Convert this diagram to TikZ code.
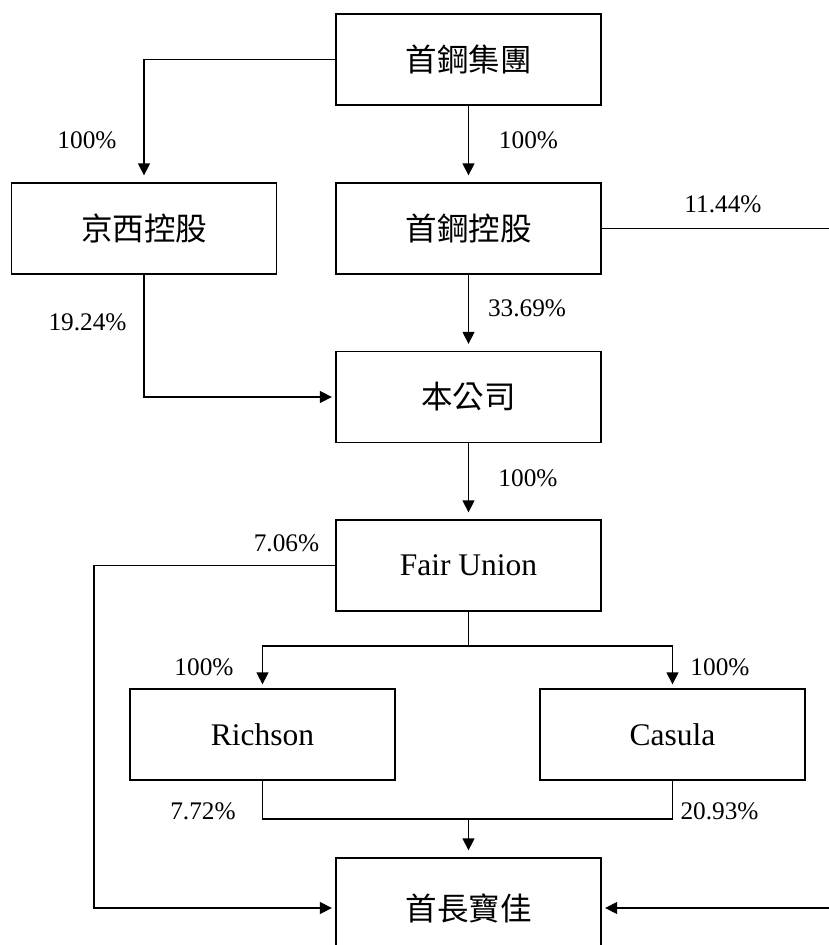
\documentclass[tikz,border=0pt]{standalone}
\usepackage{fontspec}
\setmainfont{Liberation Serif}
\newfontfamily\cjk{Noto Sans CJK TC}
\usetikzlibrary{arrows.meta}
\tikzset{
  box/.style={draw, line width=1.3pt, minimum width=265pt, minimum height=91pt, inner sep=0pt, font=\fontsize{31.5}{36}\selectfont},
  pct/.style={inner sep=0pt, font=\fontsize{25.3}{30}\selectfont},
  arr/.style={-{Triangle[length=12pt,width=12pt]}, shorten >=#1},
  arr/.default=7pt
}
\begin{document}
\begin{tikzpicture}[x=1pt,y=-1pt,line width=1.3pt]
\useasboundingbox (0,0) rectangle (829,945);
\foreach \nm/\x/\y/\txt in {grp/468.5/59.5/{\cjk 首鋼集團}, jx/144/228.5/{\cjk 京西控股}, sh/468.5/228.5/{\cjk 首鋼控股}, co/468.5/397/{\cjk 本公司}, fu/468.5/565.5/{Fair Union}, rich/262.5/734.5/{Richson}, cas/672.5/734.5/{Casula}} % edit here for the boxes
\node[box] (\nm) at (\x,\y) {\txt};
\node[box, minimum height=100pt] (sz) at (468.5,908) {\cjk 首長寶佳};
\foreach \nm/\x/\y/\t in {p1/87/140/100\%, p2/528.5/140/100\%, p3/723/204/11.44\%, p4/527/308/33.69\%, p5/87.5/322/19.24\%, p6/528/478/100\%, p7/286.5/543/7.06\%, p8/204/667/100\%, p9/720/667/100\%, p10/203/811/7.72\%, p11/719.5/811/20.93\%}
\node[pct] (\nm) at (\x,\y) {\t};
\coordinate (r1) at (829,228.5);
\coordinate (r2) at (829,908);
\coordinate (l1) at (94,565.5);
\coordinate (s) at (468.5,646);
\coordinate (m) at (468.5,819);
\draw[arr] (grp.west) -| (jx.north);
\draw[arr] (grp.south) -- (sh.north);
\draw (sh.east) -- (r1);
\draw[arr] (sh.south) -- (co.north);
\draw[arr=3.5pt] (jx.south) |- (co.west);
\draw[arr] (co.south) -- (fu.north);
\draw[arr=3.5pt] (fu.west) -- (l1) |- (sz.west);
\draw (fu.south) -- (s);
\draw[arr=4pt] (s) -| (rich.north);
\draw[arr=4pt] (s) -| (cas.north);
\draw (rich.south) |- (m) -| (cas.south);
\draw[arr] (m) -- (sz.north);
\draw[arr=3.5pt] (r2) -- (sz.east);
\end{tikzpicture}
\end{document}
